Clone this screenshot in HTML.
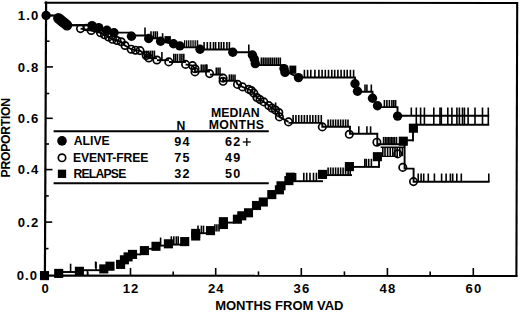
<!DOCTYPE html>
<html><head><meta charset="utf-8"><title>Survival chart</title>
<style>
html,body{margin:0;padding:0;background:#fff;}
body{width:520px;height:312px;overflow:hidden;}
svg{display:block;}
</style></head>
<body>
<svg width="520" height="312" viewBox="0 0 520 312">
<rect x="0" y="0" width="520" height="312" fill="#fff"/>
<g stroke="#000" stroke-linecap="butt" fill="none">
<line x1="46.1" y1="1.6" x2="44.9" y2="277" stroke-width="2.2"/>
<line x1="44.5" y1="2.7" x2="517.4" y2="2.9" stroke-width="2"/>
<line x1="517.2" y1="1.9" x2="516.4" y2="276.9" stroke-width="2.1"/>
<line x1="44" y1="275.6" x2="517.4" y2="275.9" stroke-width="2.2"/>
<line x1="46" y1="15.5" x2="53.2" y2="15.5" stroke-width="1.6"/>
<line x1="45.88" y1="41.2" x2="49.48" y2="41.2" stroke-width="1.6"/>
<line x1="45.76" y1="66.9" x2="52.96" y2="66.9" stroke-width="1.6"/>
<line x1="45.64" y1="93.5" x2="49.24" y2="93.5" stroke-width="1.6"/>
<line x1="45.52" y1="118.3" x2="52.72" y2="118.3" stroke-width="1.6"/>
<line x1="45.4" y1="144" x2="49" y2="144" stroke-width="1.6"/>
<line x1="45.28" y1="169.6" x2="52.48" y2="169.6" stroke-width="1.6"/>
<line x1="45.16" y1="195.9" x2="48.76" y2="195.9" stroke-width="1.6"/>
<line x1="45.04" y1="222.1" x2="52.24" y2="222.1" stroke-width="1.6"/>
<line x1="44.92" y1="248.6" x2="48.52" y2="248.6" stroke-width="1.6"/>
<line x1="87.8" y1="275.5" x2="87.8" y2="271.4" stroke-width="1.6"/>
<line x1="130.5" y1="275.5" x2="130.5" y2="268" stroke-width="1.6"/>
<line x1="173.2" y1="275.5" x2="173.2" y2="271.4" stroke-width="1.6"/>
<line x1="215.7" y1="275.5" x2="215.7" y2="268" stroke-width="1.6"/>
<line x1="258.5" y1="275.5" x2="258.5" y2="271.4" stroke-width="1.6"/>
<line x1="301.3" y1="275.5" x2="301.3" y2="268" stroke-width="1.6"/>
<line x1="344.4" y1="275.5" x2="344.4" y2="271.4" stroke-width="1.6"/>
<line x1="387.4" y1="275.5" x2="387.4" y2="268" stroke-width="1.6"/>
<line x1="430.2" y1="275.5" x2="430.2" y2="271.4" stroke-width="1.6"/>
<line x1="473.3" y1="275.5" x2="473.3" y2="268" stroke-width="1.6"/>
</g>
<g fill="#000" stroke="none" font-family="Liberation Sans, sans-serif" font-weight="bold">
<text x="39.3" y="20.2" font-size="13.1" text-anchor="end" letter-spacing="1.1">1.0</text>
<text x="39.3" y="71.6" font-size="13.1" text-anchor="end" letter-spacing="1.1">0.8</text>
<text x="39.3" y="123" font-size="13.1" text-anchor="end" letter-spacing="1.1">0.6</text>
<text x="39.3" y="174.3" font-size="13.1" text-anchor="end" letter-spacing="1.1">0.4</text>
<text x="39.3" y="226.8" font-size="13.1" text-anchor="end" letter-spacing="1.1">0.2</text>
<text x="38.2" y="280.4" font-size="13.1" text-anchor="end" letter-spacing="1.1">0.0</text>
<text x="45.6" y="293.4" font-size="13.1" text-anchor="middle" letter-spacing="1.1">0</text>
<text x="131.1" y="293.4" font-size="13.1" text-anchor="middle" letter-spacing="1.1">12</text>
<text x="216.3" y="293.4" font-size="13.1" text-anchor="middle" letter-spacing="1.1">24</text>
<text x="301.9" y="293.4" font-size="13.1" text-anchor="middle" letter-spacing="1.1">36</text>
<text x="388" y="293.4" font-size="13.1" text-anchor="middle" letter-spacing="1.1">48</text>
<text x="473.9" y="293.4" font-size="13.1" text-anchor="middle" letter-spacing="1.1">60</text>
<text x="279.3" y="309.5" font-size="13" text-anchor="middle" >MONTHS FROM VAD</text>
<text x="0" y="0" font-size="12.2" text-anchor="middle" textLength="79.5" lengthAdjust="spacing" transform="translate(10.0,137.7) rotate(-90)">PROPORTION</text>
<text x="73.8" y="145.1" font-size="12.2" text-anchor="start" >ALIVE</text>
<text x="73" y="161.8" font-size="12.2" text-anchor="start" textLength="75.4" lengthAdjust="spacing">EVENT-FREE</text>
<text x="73.5" y="178.1" font-size="12.2" text-anchor="start" textLength="52.8" lengthAdjust="spacing">RELAPSE</text>
<text x="181" y="129.6" font-size="12.2" text-anchor="middle" >N</text>
<text x="235.35" y="117.4" font-size="12.3" text-anchor="middle" textLength="48.7" lengthAdjust="spacing">MEDIAN</text>
<text x="236.35" y="129.2" font-size="12.3" text-anchor="middle" textLength="55.2" lengthAdjust="spacing">MONTHS</text>
<text x="182.5" y="145.8" font-size="12.6" text-anchor="middle" letter-spacing="1.3">94</text>
<text x="233.2" y="145.8" font-size="12.6" text-anchor="middle" letter-spacing="1.3">62</text>
<text x="182.5" y="162" font-size="12.6" text-anchor="middle" letter-spacing="1.3">75</text>
<text x="233.2" y="162" font-size="12.6" text-anchor="middle" letter-spacing="1.3">49</text>
<text x="182.5" y="178.3" font-size="12.6" text-anchor="middle" letter-spacing="1.3">32</text>
<text x="233.2" y="178.3" font-size="12.6" text-anchor="middle" letter-spacing="1.3">50</text>
</g>
<g stroke="#000" fill="none">
<line x1="242.8" y1="142" x2="250.8" y2="142" stroke-width="1.3"/>
<line x1="246.8" y1="138" x2="246.8" y2="146" stroke-width="1.3"/>
<line x1="53.6" y1="131.3" x2="268.8" y2="131.3" stroke-width="2"/>
<line x1="53.6" y1="183.3" x2="268.8" y2="183.3" stroke-width="2"/>
</g>
<g stroke="#000">
<circle cx="62" cy="140.9" r="4.8" fill="#000" stroke="none"/>
<circle cx="62" cy="157.8" r="3.7" fill="none" stroke-width="1.7"/>
<rect x="57.85" y="169.65" width="8.3" height="8.3" fill="#000" stroke="none"/>
</g>
<g stroke="#000" fill="none">
<line x1="63" y1="272" x2="76" y2="272" stroke-width="1.9"/>
<line x1="70.6" y1="263.7" x2="70.6" y2="272" stroke-width="1.6"/>
<line x1="83" y1="270.2" x2="101" y2="270.2" stroke-width="1.9"/>
<line x1="87.3" y1="270.2" x2="87.3" y2="275" stroke-width="1.2"/>
<line x1="96" y1="261.9" x2="96" y2="270.2" stroke-width="1.6"/>
<line x1="95.6" y1="261.5" x2="95.6" y2="268" stroke-width="1.6"/>
<line x1="136" y1="254.4" x2="141" y2="254.4" stroke-width="1.9"/>
<line x1="148" y1="248.8" x2="153" y2="248.8" stroke-width="1.9"/>
<line x1="160" y1="245.6" x2="165" y2="245.6" stroke-width="1.9"/>
<line x1="160.6" y1="237.5" x2="160.6" y2="245.6" stroke-width="1.6"/>
<line x1="172" y1="244.6" x2="181" y2="244.6" stroke-width="1.9"/>
<line x1="171.3" y1="236.3" x2="171.3" y2="244.6" stroke-width="1.6"/>
<line x1="173.8" y1="236.3" x2="173.8" y2="244.6" stroke-width="1.6"/>
<line x1="176.3" y1="236.3" x2="176.3" y2="244.6" stroke-width="1.6"/>
<line x1="178.2" y1="236.3" x2="178.2" y2="244.6" stroke-width="1.6"/>
<line x1="199" y1="233.2" x2="207" y2="233.2" stroke-width="1.9"/>
<line x1="198" y1="225.6" x2="198" y2="233" stroke-width="1.6"/>
<line x1="201.4" y1="225.6" x2="201.4" y2="233" stroke-width="1.6"/>
<line x1="203.5" y1="225.6" x2="203.5" y2="233" stroke-width="1.6"/>
<line x1="214.9" y1="224.2" x2="214.9" y2="231.6" stroke-width="1.6"/>
<line x1="216.9" y1="224.2" x2="216.9" y2="231.6" stroke-width="1.6"/>
<line x1="219" y1="224.2" x2="219" y2="231.6" stroke-width="1.6"/>
<line x1="227" y1="222.6" x2="234" y2="222.6" stroke-width="1.9"/>
<line x1="292" y1="181.2" x2="323" y2="181.2" stroke-width="1.9"/>
<line x1="295.6" y1="173" x2="295.6" y2="181.2" stroke-width="1.6"/>
<line x1="303.8" y1="172.7" x2="303.8" y2="181.2" stroke-width="1.6"/>
<line x1="306.7" y1="172.7" x2="306.7" y2="181.2" stroke-width="1.6"/>
<line x1="310" y1="172.7" x2="310" y2="181.2" stroke-width="1.6"/>
<line x1="313.5" y1="172.7" x2="313.5" y2="181.2" stroke-width="1.6"/>
<line x1="316.4" y1="172.7" x2="316.4" y2="181.2" stroke-width="1.6"/>
<line x1="326" y1="175.1" x2="352" y2="175.1" stroke-width="1.9"/>
<line x1="328.1" y1="167.4" x2="328.1" y2="175.1" stroke-width="1.6"/>
<line x1="330.6" y1="167.4" x2="330.6" y2="175.1" stroke-width="1.6"/>
<line x1="333.1" y1="167.4" x2="333.1" y2="175.1" stroke-width="1.6"/>
<line x1="335.6" y1="167.4" x2="335.6" y2="175.1" stroke-width="1.6"/>
<line x1="338.1" y1="167.4" x2="338.1" y2="175.1" stroke-width="1.6"/>
<line x1="340.6" y1="167.4" x2="340.6" y2="175.1" stroke-width="1.6"/>
<line x1="343.1" y1="167.4" x2="343.1" y2="175.1" stroke-width="1.6"/>
<line x1="345.6" y1="167.4" x2="345.6" y2="175.1" stroke-width="1.6"/>
<line x1="348.1" y1="167.4" x2="348.1" y2="175.1" stroke-width="1.6"/>
<line x1="350.2" y1="167.4" x2="350.2" y2="175.1" stroke-width="1.6"/>
<line x1="353" y1="166.9" x2="379.5" y2="166.9" stroke-width="1.9"/>
<line x1="364.8" y1="158.8" x2="364.8" y2="166.9" stroke-width="1.6"/>
<line x1="366.3" y1="158.8" x2="366.3" y2="166.9" stroke-width="1.6"/>
<line x1="368.7" y1="158.8" x2="368.7" y2="166.9" stroke-width="1.6"/>
<line x1="371.4" y1="158.8" x2="371.4" y2="166.9" stroke-width="1.6"/>
<line x1="379" y1="167.8" x2="379" y2="156.5" stroke-width="1.9"/>
<line x1="380.6" y1="147.3" x2="404.6" y2="147.3" stroke-width="1.6"/>
<line x1="381" y1="156.4" x2="398" y2="156.4" stroke-width="1.2"/>
<line x1="382.8" y1="147.3" x2="382.8" y2="156.2" stroke-width="1.6"/>
<line x1="385" y1="147.3" x2="385" y2="156.2" stroke-width="1.6"/>
<line x1="387.6" y1="147.3" x2="387.6" y2="156.2" stroke-width="1.6"/>
<line x1="390.2" y1="147.3" x2="390.2" y2="156.2" stroke-width="1.6"/>
<line x1="392.7" y1="147.3" x2="392.7" y2="156.2" stroke-width="1.6"/>
<line x1="395" y1="147.3" x2="395" y2="156.2" stroke-width="1.6"/>
<line x1="397.2" y1="147.3" x2="397.2" y2="156.2" stroke-width="1.6"/>
<line x1="399.8" y1="147.3" x2="399.8" y2="156.2" stroke-width="1.6"/>
<line x1="402.4" y1="147.3" x2="402.4" y2="156.2" stroke-width="1.6"/>
<line x1="405" y1="140.3" x2="413.4" y2="140.3" stroke-width="1.9"/>
<line x1="413" y1="141.2" x2="413" y2="128.5" stroke-width="1.9"/>
<line x1="417" y1="124.7" x2="489.2" y2="124.7" stroke-width="1.9"/>
</g>
<g stroke="none">
<rect x="39.95" y="271.05" width="9.1" height="9.1" fill="#000" stroke="none"/>
<rect x="54.15" y="268.85" width="9.1" height="9.1" fill="#000" stroke="none"/>
<rect x="74.85" y="266.75" width="9.1" height="9.1" fill="#000" stroke="none"/>
<rect x="99.25" y="264.35" width="9.1" height="9.1" fill="#000" stroke="none"/>
<rect x="105.45" y="261.65" width="9.1" height="9.1" fill="#000" stroke="none"/>
<rect x="116.05" y="259.85" width="9.1" height="9.1" fill="#000" stroke="none"/>
<rect x="119.85" y="255.25" width="9.1" height="9.1" fill="#000" stroke="none"/>
<rect x="123.55" y="252.35" width="9.1" height="9.1" fill="#000" stroke="none"/>
<rect x="127.95" y="249.85" width="9.1" height="9.1" fill="#000" stroke="none"/>
<rect x="139.85" y="246.05" width="9.1" height="9.1" fill="#000" stroke="none"/>
<rect x="151.45" y="241.75" width="9.1" height="9.1" fill="#000" stroke="none"/>
<rect x="163.85" y="239.25" width="9.1" height="9.1" fill="#000" stroke="none"/>
<rect x="180.15" y="237.05" width="9.1" height="9.1" fill="#000" stroke="none"/>
<rect x="191.15" y="231.45" width="9.1" height="9.1" fill="#000" stroke="none"/>
<rect x="191.15" y="228.85" width="9.1" height="9.1" fill="#000" stroke="none"/>
<rect x="205.95" y="226.05" width="9.1" height="9.1" fill="#000" stroke="none"/>
<rect x="218.85" y="219.95" width="9.1" height="9.1" fill="#000" stroke="none"/>
<rect x="218.85" y="217.15" width="9.1" height="9.1" fill="#000" stroke="none"/>
<rect x="232.85" y="214.65" width="9.1" height="9.1" fill="#000" stroke="none"/>
<rect x="237.25" y="211.25" width="9.1" height="9.1" fill="#000" stroke="none"/>
<rect x="243.95" y="208.25" width="9.1" height="9.1" fill="#000" stroke="none"/>
<rect x="251.95" y="200.95" width="9.1" height="9.1" fill="#000" stroke="none"/>
<rect x="258.75" y="197.45" width="9.1" height="9.1" fill="#000" stroke="none"/>
<rect x="267.25" y="190.05" width="9.1" height="9.1" fill="#000" stroke="none"/>
<rect x="274.85" y="185.25" width="9.1" height="9.1" fill="#000" stroke="none"/>
<rect x="276.45" y="181.25" width="9.1" height="9.1" fill="#000" stroke="none"/>
<rect x="284.35" y="176.05" width="9.1" height="9.1" fill="#000" stroke="none"/>
<rect x="285.85" y="172.65" width="9.1" height="9.1" fill="#000" stroke="none"/>
<rect x="317.95" y="169.85" width="9.1" height="9.1" fill="#000" stroke="none"/>
<rect x="344.85" y="162.05" width="9.1" height="9.1" fill="#000" stroke="none"/>
<rect x="372.85" y="152.15" width="9.1" height="9.1" fill="#000" stroke="none"/>
<rect x="398.75" y="136.65" width="9.1" height="9.1" fill="#000" stroke="none"/>
<rect x="408.85" y="123.65" width="9.1" height="9.1" fill="#000" stroke="none"/>
</g>
<g stroke="#000" fill="none">
<line x1="67" y1="25.2" x2="90" y2="25.2" stroke-width="1.9"/>
<polyline points="80.6,28.6 91.2,30.5 100.5,32.8 104.5,34.8 108.5,37 112.5,39.3 117,40.5 121.2,41.8 125,45.5 131.2,49.2 135.5,50.2 140,50.6 146.2,55.5 148.8,58" fill="none" stroke-width="1.9"/>
<line x1="148.8" y1="58.2" x2="157" y2="58.2" stroke-width="1.9"/>
<line x1="144.4" y1="50.6" x2="144.4" y2="58.2" stroke-width="1.6"/>
<line x1="146.5" y1="50.6" x2="146.5" y2="58.2" stroke-width="1.6"/>
<line x1="148.6" y1="50.6" x2="148.6" y2="58.2" stroke-width="1.6"/>
<line x1="150.6" y1="50.6" x2="150.6" y2="58.2" stroke-width="1.6"/>
<line x1="152.5" y1="50.6" x2="152.5" y2="58.2" stroke-width="1.6"/>
<line x1="154.4" y1="50.6" x2="154.4" y2="58.2" stroke-width="1.6"/>
<line x1="157" y1="60.2" x2="169" y2="60.2" stroke-width="1.9"/>
<line x1="161.9" y1="51.9" x2="161.9" y2="60.2" stroke-width="1.6"/>
<line x1="169" y1="62" x2="186" y2="62" stroke-width="1.9"/>
<line x1="173.8" y1="53.8" x2="173.8" y2="62" stroke-width="1.6"/>
<line x1="175.6" y1="53.8" x2="175.6" y2="62" stroke-width="1.6"/>
<line x1="177.5" y1="53.8" x2="177.5" y2="62" stroke-width="1.6"/>
<line x1="180" y1="53.8" x2="180" y2="62" stroke-width="1.6"/>
<line x1="181.9" y1="53.8" x2="181.9" y2="62" stroke-width="1.6"/>
<line x1="183.8" y1="53.8" x2="183.8" y2="62" stroke-width="1.6"/>
<polyline points="185.6,64.4 192.5,65.6 195,68.8 195,71.5 210,71.5" fill="none" stroke-width="1.9"/>
<line x1="201.3" y1="64.4" x2="201.3" y2="71.5" stroke-width="1.6"/>
<line x1="203.1" y1="64.4" x2="203.1" y2="71.5" stroke-width="1.6"/>
<line x1="205" y1="64.4" x2="205" y2="71.5" stroke-width="1.6"/>
<line x1="206.9" y1="64.4" x2="206.9" y2="71.5" stroke-width="1.6"/>
<line x1="206.3" y1="64.4" x2="206.3" y2="72.5" stroke-width="1.6"/>
<line x1="210" y1="74.6" x2="223" y2="74.6" stroke-width="1.9"/>
<line x1="216.3" y1="67.5" x2="216.3" y2="74.6" stroke-width="1.6"/>
<line x1="218.1" y1="67.5" x2="218.1" y2="74.6" stroke-width="1.6"/>
<line x1="220" y1="67.5" x2="220" y2="74.6" stroke-width="1.6"/>
<polyline points="223.1,78.1 223.1,80.8 236,80.8" fill="none" stroke-width="1.9"/>
<line x1="229.4" y1="74.4" x2="229.4" y2="80.8" stroke-width="1.6"/>
<line x1="231.3" y1="74.4" x2="231.3" y2="80.8" stroke-width="1.6"/>
<line x1="233.1" y1="74.4" x2="233.1" y2="80.8" stroke-width="1.6"/>
<line x1="235" y1="74.4" x2="235" y2="80.8" stroke-width="1.6"/>
<polyline points="236,80.8 237.5,84.4 242.5,86.9 248.8,89.4 251.3,90.5 253.8,93.1 256.9,97.5 260,99.6 263.8,101.9 268.8,105.6 271.9,108.1 275.5,110 278.8,112.5 279.4,116.9 288.5,121.9" fill="none" stroke-width="1.9"/>
<line x1="275.6" y1="102.5" x2="275.6" y2="108.8" stroke-width="1.6"/>
<line x1="288.5" y1="122.9" x2="322.3" y2="122.9" stroke-width="1.9"/>
<line x1="293.1" y1="115" x2="293.1" y2="122.9" stroke-width="1.6"/>
<line x1="295.92" y1="115" x2="295.92" y2="122.9" stroke-width="1.6"/>
<line x1="298.74" y1="115" x2="298.74" y2="122.9" stroke-width="1.6"/>
<line x1="301.56" y1="115" x2="301.56" y2="122.9" stroke-width="1.6"/>
<line x1="304.38" y1="115" x2="304.38" y2="122.9" stroke-width="1.6"/>
<line x1="307.2" y1="115" x2="307.2" y2="122.9" stroke-width="1.6"/>
<line x1="310.02" y1="115" x2="310.02" y2="122.9" stroke-width="1.6"/>
<line x1="312.84" y1="115" x2="312.84" y2="122.9" stroke-width="1.6"/>
<line x1="315.66" y1="115" x2="315.66" y2="122.9" stroke-width="1.6"/>
<line x1="318.48" y1="115" x2="318.48" y2="122.9" stroke-width="1.6"/>
<line x1="321.3" y1="115" x2="321.3" y2="122.9" stroke-width="1.6"/>
<polyline points="322.3,122.9 322.3,126.7 350,126.7 350,133.8 377.3,133.8 377.3,144.3 404.6,144.3 404.6,168.6 413.6,168.6 413.6,181.7 489.6,181.7" fill="none" stroke-width="1.9"/>
<line x1="328.1" y1="119.4" x2="328.1" y2="126.7" stroke-width="1.6"/>
<line x1="330.6" y1="119.4" x2="330.6" y2="126.7" stroke-width="1.6"/>
<line x1="333.1" y1="119.4" x2="333.1" y2="126.7" stroke-width="1.6"/>
<line x1="335.6" y1="119.4" x2="335.6" y2="126.7" stroke-width="1.6"/>
<line x1="338.1" y1="119.4" x2="338.1" y2="126.7" stroke-width="1.6"/>
<line x1="340.6" y1="119.4" x2="340.6" y2="126.7" stroke-width="1.6"/>
<line x1="343.1" y1="119.4" x2="343.1" y2="126.7" stroke-width="1.6"/>
<line x1="345.6" y1="119.4" x2="345.6" y2="126.7" stroke-width="1.6"/>
<line x1="348" y1="119.4" x2="348" y2="126.7" stroke-width="1.6"/>
<line x1="358.8" y1="126.3" x2="358.8" y2="133.8" stroke-width="1.6"/>
<line x1="366.9" y1="126.3" x2="366.9" y2="133.8" stroke-width="1.6"/>
<line x1="370.6" y1="126.3" x2="370.6" y2="133.8" stroke-width="1.6"/>
<line x1="383.6" y1="136.9" x2="383.6" y2="144.3" stroke-width="1.6"/>
<line x1="385.4" y1="136.9" x2="385.4" y2="144.3" stroke-width="1.6"/>
<line x1="387" y1="136.9" x2="387" y2="144.3" stroke-width="1.6"/>
<line x1="388.5" y1="136.9" x2="388.5" y2="144.3" stroke-width="1.6"/>
<line x1="390" y1="136.9" x2="390" y2="144.3" stroke-width="1.6"/>
<line x1="391.5" y1="136.9" x2="391.5" y2="144.3" stroke-width="1.6"/>
<line x1="393" y1="136.9" x2="393" y2="144.3" stroke-width="1.6"/>
<line x1="394.6" y1="136.9" x2="394.6" y2="144.3" stroke-width="1.6"/>
<line x1="396.5" y1="136.9" x2="396.5" y2="144.3" stroke-width="1.6"/>
<line x1="418.2" y1="173.5" x2="418.2" y2="181.7" stroke-width="1.6"/>
<line x1="421.1" y1="173.5" x2="421.1" y2="181.7" stroke-width="1.6"/>
<line x1="423.7" y1="173.5" x2="423.7" y2="181.7" stroke-width="1.6"/>
<line x1="428.3" y1="173.5" x2="428.3" y2="181.7" stroke-width="1.6"/>
<line x1="434.4" y1="173.5" x2="434.4" y2="181.7" stroke-width="1.6"/>
<line x1="441.6" y1="173.5" x2="441.6" y2="181.7" stroke-width="1.6"/>
<line x1="446.1" y1="173.5" x2="446.1" y2="181.7" stroke-width="1.6"/>
<line x1="450.4" y1="173.5" x2="450.4" y2="181.7" stroke-width="1.6"/>
<line x1="452.7" y1="173.5" x2="452.7" y2="181.7" stroke-width="1.6"/>
<line x1="456.8" y1="173.5" x2="456.8" y2="181.7" stroke-width="1.6"/>
<line x1="461.3" y1="173.5" x2="461.3" y2="181.7" stroke-width="1.6"/>
<line x1="488.8" y1="173.5" x2="488.8" y2="181.7" stroke-width="1.6"/>
</g>
<g stroke="#000">
<circle cx="86.2" cy="27.4" r="2.9" fill="none" stroke-width="1.7"/>
<circle cx="80.5" cy="28.6" r="3.7" fill="none" stroke-width="1.7"/>
<circle cx="91.2" cy="30.5" r="3.7" fill="none" stroke-width="1.7"/>
<circle cx="100.5" cy="32.8" r="3.7" fill="none" stroke-width="1.7"/>
<circle cx="104.5" cy="34.8" r="3.7" fill="none" stroke-width="1.7"/>
<circle cx="108.5" cy="37" r="3.7" fill="none" stroke-width="1.7"/>
<circle cx="112.5" cy="39.3" r="3.7" fill="none" stroke-width="1.7"/>
<circle cx="117" cy="40.5" r="3.7" fill="none" stroke-width="1.7"/>
<circle cx="121.2" cy="41.8" r="3.7" fill="none" stroke-width="1.7"/>
<circle cx="125" cy="45.5" r="3.7" fill="none" stroke-width="1.7"/>
<circle cx="131.2" cy="49.2" r="3.7" fill="none" stroke-width="1.7"/>
<circle cx="135.5" cy="50.2" r="3.7" fill="none" stroke-width="1.7"/>
<circle cx="140" cy="50.6" r="3.7" fill="none" stroke-width="1.7"/>
<circle cx="146.2" cy="55.5" r="3.7" fill="none" stroke-width="1.7"/>
<circle cx="148.8" cy="58" r="3.7" fill="none" stroke-width="1.7"/>
<circle cx="156.9" cy="60" r="3.7" fill="none" stroke-width="1.7"/>
<circle cx="168.8" cy="61.9" r="3.7" fill="none" stroke-width="1.7"/>
<circle cx="185.6" cy="64.4" r="3.7" fill="none" stroke-width="1.7"/>
<circle cx="192.5" cy="65.6" r="3.7" fill="none" stroke-width="1.7"/>
<circle cx="195" cy="68.8" r="3.7" fill="none" stroke-width="1.7"/>
<circle cx="195" cy="71.9" r="3.7" fill="none" stroke-width="1.7"/>
<circle cx="209.6" cy="73.6" r="3.7" fill="none" stroke-width="1.7"/>
<circle cx="223.1" cy="78.1" r="3.7" fill="none" stroke-width="1.7"/>
<circle cx="223.1" cy="81.3" r="3.7" fill="none" stroke-width="1.7"/>
<circle cx="237.5" cy="84.4" r="3.7" fill="none" stroke-width="1.7"/>
<circle cx="242.5" cy="86.9" r="3.7" fill="none" stroke-width="1.7"/>
<circle cx="248.8" cy="89.4" r="3.7" fill="none" stroke-width="1.7"/>
<circle cx="251.3" cy="90.5" r="3.7" fill="none" stroke-width="1.7"/>
<circle cx="253.8" cy="93.1" r="3.7" fill="none" stroke-width="1.7"/>
<circle cx="256.9" cy="97.5" r="3.7" fill="none" stroke-width="1.7"/>
<circle cx="260" cy="99.6" r="3.7" fill="none" stroke-width="1.7"/>
<circle cx="263.8" cy="101.9" r="3.7" fill="none" stroke-width="1.7"/>
<circle cx="268.8" cy="105.6" r="3.7" fill="none" stroke-width="1.7"/>
<circle cx="271.9" cy="108.1" r="3.7" fill="none" stroke-width="1.7"/>
<circle cx="275.5" cy="110" r="3.7" fill="none" stroke-width="1.7"/>
<circle cx="278.8" cy="112.5" r="3.7" fill="none" stroke-width="1.7"/>
<circle cx="279.4" cy="116.9" r="3.7" fill="none" stroke-width="1.7"/>
<circle cx="288.5" cy="121.9" r="3.7" fill="none" stroke-width="1.7"/>
<circle cx="322.3" cy="126.9" r="3.7" fill="none" stroke-width="1.7"/>
<circle cx="349.3" cy="134.3" r="3.7" fill="none" stroke-width="1.7"/>
<circle cx="376.9" cy="142.2" r="3.7" fill="none" stroke-width="1.7"/>
<circle cx="397.7" cy="153.9" r="3.7" fill="none" stroke-width="1.7"/>
<circle cx="402.8" cy="167.4" r="3.7" fill="none" stroke-width="1.7"/>
<circle cx="413.5" cy="181.6" r="3.7" fill="none" stroke-width="1.7"/>
</g>
<g stroke="#000" fill="none">
<polyline points="46,15.5 55,15.5 58.4,18.2 67,25.2 90,25.2 92,25.6 98.7,27.6 106.9,30.2 114,32.6 131.3,32.6 131.3,35.5 145,35.5 148.7,38.3 160,38.3 160.6,41.3 172.7,43.8 179.2,46.5 179.2,47.4 200,47.4 200,49.5 232.5,49.5 232.8,52.2 252.4,52.2 252.4,55 255.3,63.6 255.3,65.1 284,65.1 284,70.4 298.5,77.5 355,77.5 355,83.8 357.5,91.8 372.5,91.8 372.5,98.2 377.5,105.8 377.5,107.1 397.5,107.1 397.5,115.7 489.2,115.7" fill="none" stroke-width="1.9"/>
<line x1="145" y1="27.5" x2="145" y2="35.6" stroke-width="1.6"/>
<line x1="151" y1="31.3" x2="151" y2="38.3" stroke-width="1.6"/>
<line x1="153.5" y1="31.3" x2="153.5" y2="38.3" stroke-width="1.6"/>
<line x1="155.4" y1="31.3" x2="155.4" y2="38.3" stroke-width="1.6"/>
<line x1="157.3" y1="31.3" x2="157.3" y2="38.3" stroke-width="1.6"/>
<line x1="162.6" y1="33.2" x2="162.6" y2="41" stroke-width="1.6"/>
<line x1="184.6" y1="40.3" x2="184.6" y2="47.4" stroke-width="1.2"/>
<line x1="186.46" y1="40.3" x2="186.46" y2="47.4" stroke-width="1.2"/>
<line x1="188.32" y1="40.3" x2="188.32" y2="47.4" stroke-width="1.2"/>
<line x1="190.18" y1="40.3" x2="190.18" y2="47.4" stroke-width="1.2"/>
<line x1="192.04" y1="40.3" x2="192.04" y2="47.4" stroke-width="1.2"/>
<line x1="193.9" y1="40.3" x2="193.9" y2="47.4" stroke-width="1.2"/>
<line x1="195.76" y1="40.3" x2="195.76" y2="47.4" stroke-width="1.2"/>
<line x1="197.62" y1="40.3" x2="197.62" y2="47.4" stroke-width="1.2"/>
<line x1="204.1" y1="42" x2="204.1" y2="49.5" stroke-width="1.6"/>
<line x1="207.3" y1="42" x2="207.3" y2="49.5" stroke-width="1.6"/>
<line x1="210.4" y1="42" x2="210.4" y2="49.5" stroke-width="1.6"/>
<line x1="213.5" y1="42" x2="213.5" y2="49.5" stroke-width="1.6"/>
<line x1="215.6" y1="42" x2="215.6" y2="49.5" stroke-width="1.6"/>
<line x1="218.8" y1="42" x2="218.8" y2="49.5" stroke-width="1.6"/>
<line x1="221.3" y1="42" x2="221.3" y2="49.5" stroke-width="1.6"/>
<line x1="223.8" y1="42" x2="223.8" y2="49.5" stroke-width="1.6"/>
<line x1="226.9" y1="42" x2="226.9" y2="49.5" stroke-width="1.6"/>
<line x1="229.4" y1="42" x2="229.4" y2="49.5" stroke-width="1.6"/>
<line x1="248.8" y1="44.4" x2="248.8" y2="52.2" stroke-width="1.6"/>
<line x1="261.3" y1="57.5" x2="261.3" y2="65.1" stroke-width="1.6"/>
<line x1="263.2" y1="57.5" x2="263.2" y2="65.1" stroke-width="1.6"/>
<line x1="265.1" y1="57.5" x2="265.1" y2="65.1" stroke-width="1.6"/>
<line x1="267" y1="57.5" x2="267" y2="65.1" stroke-width="1.6"/>
<line x1="268.9" y1="57.5" x2="268.9" y2="65.1" stroke-width="1.6"/>
<line x1="270.8" y1="57.5" x2="270.8" y2="65.1" stroke-width="1.6"/>
<line x1="272.7" y1="57.5" x2="272.7" y2="65.1" stroke-width="1.6"/>
<line x1="274.6" y1="57.5" x2="274.6" y2="65.1" stroke-width="1.6"/>
<line x1="276.5" y1="57.5" x2="276.5" y2="65.1" stroke-width="1.6"/>
<line x1="278.4" y1="57.5" x2="278.4" y2="65.1" stroke-width="1.6"/>
<line x1="280.3" y1="57.5" x2="280.3" y2="65.1" stroke-width="1.6"/>
<line x1="304.4" y1="69.8" x2="304.4" y2="77.9" stroke-width="1.6"/>
<line x1="307.6" y1="69.8" x2="307.6" y2="77.9" stroke-width="1.6"/>
<line x1="310.8" y1="69.8" x2="310.8" y2="77.9" stroke-width="1.6"/>
<line x1="314.9" y1="69.8" x2="314.9" y2="77.9" stroke-width="1.6"/>
<line x1="318.9" y1="69.8" x2="318.9" y2="77.9" stroke-width="1.6"/>
<line x1="322.1" y1="69.8" x2="322.1" y2="77.9" stroke-width="1.6"/>
<line x1="325.3" y1="69.8" x2="325.3" y2="77.9" stroke-width="1.6"/>
<line x1="328.5" y1="69.8" x2="328.5" y2="77.9" stroke-width="1.6"/>
<line x1="331.8" y1="69.8" x2="331.8" y2="77.9" stroke-width="1.6"/>
<line x1="334.7" y1="69.8" x2="334.7" y2="77.9" stroke-width="1.6"/>
<line x1="337.9" y1="69.8" x2="337.9" y2="77.9" stroke-width="1.6"/>
<line x1="341.1" y1="69.8" x2="341.1" y2="77.9" stroke-width="1.6"/>
<line x1="344.3" y1="69.8" x2="344.3" y2="77.9" stroke-width="1.6"/>
<line x1="347.2" y1="69.8" x2="347.2" y2="77.9" stroke-width="1.6"/>
<line x1="350.4" y1="69.8" x2="350.4" y2="77.9" stroke-width="1.6"/>
<line x1="353.6" y1="69.8" x2="353.6" y2="77.9" stroke-width="1.6"/>
<line x1="365" y1="84.5" x2="365" y2="91.8" stroke-width="1.6"/>
<line x1="366.9" y1="84.5" x2="366.9" y2="91.8" stroke-width="1.6"/>
<line x1="371.3" y1="84.5" x2="371.3" y2="91.8" stroke-width="1.6"/>
<line x1="384.4" y1="100" x2="384.4" y2="107.1" stroke-width="1.6"/>
<line x1="386.9" y1="100" x2="386.9" y2="107.1" stroke-width="1.6"/>
<line x1="389.4" y1="100" x2="389.4" y2="107.1" stroke-width="1.6"/>
<line x1="391.9" y1="100" x2="391.9" y2="107.1" stroke-width="1.6"/>
<line x1="393.8" y1="100" x2="393.8" y2="107.1" stroke-width="1.6"/>
<line x1="395.6" y1="100" x2="395.6" y2="107.1" stroke-width="1.6"/>
<line x1="411.3" y1="107.5" x2="411.3" y2="115.7" stroke-width="1.6"/>
<line x1="416.3" y1="107.5" x2="416.3" y2="124.7" stroke-width="1.6"/>
<line x1="420.6" y1="107.5" x2="420.6" y2="124.7" stroke-width="1.6"/>
<line x1="424.4" y1="107.5" x2="424.4" y2="124.7" stroke-width="1.6"/>
<line x1="433.8" y1="107.5" x2="433.8" y2="124.7" stroke-width="1.6"/>
<line x1="440" y1="107.5" x2="440" y2="124.7" stroke-width="1.6"/>
<line x1="441.3" y1="107.5" x2="441.3" y2="124.7" stroke-width="1.6"/>
<line x1="447.8" y1="107.5" x2="447.8" y2="124.7" stroke-width="1.6"/>
<line x1="451.9" y1="107.5" x2="451.9" y2="124.7" stroke-width="1.6"/>
<line x1="456.9" y1="107.5" x2="456.9" y2="124.7" stroke-width="1.6"/>
<line x1="459.4" y1="107.5" x2="459.4" y2="124.7" stroke-width="1.6"/>
<line x1="462.5" y1="107.5" x2="462.5" y2="124.7" stroke-width="1.6"/>
<line x1="464.4" y1="107.5" x2="464.4" y2="124.7" stroke-width="1.6"/>
<line x1="468.1" y1="107.5" x2="468.1" y2="124.7" stroke-width="1.6"/>
<line x1="475" y1="107.5" x2="475" y2="124.7" stroke-width="1.6"/>
<line x1="482.5" y1="107.5" x2="482.5" y2="124.7" stroke-width="1.6"/>
<line x1="488.3" y1="107.5" x2="488.3" y2="124.7" stroke-width="1.6"/>
</g>
<g stroke="none">
<rect x="164.5" y="36.1" width="6.4" height="5.9" fill="#000" stroke="none"/>
<rect x="289.4" y="65.6" width="6.9" height="8.2" fill="#000" stroke="none"/>
<circle cx="58.4" cy="18.2" r="5.3" fill="#000" stroke="none"/>
<circle cx="59.83" cy="19.37" r="5.3" fill="#000" stroke="none"/>
<circle cx="61.27" cy="20.53" r="5.3" fill="#000" stroke="none"/>
<circle cx="62.7" cy="21.7" r="5.3" fill="#000" stroke="none"/>
<circle cx="64.13" cy="22.87" r="5.3" fill="#000" stroke="none"/>
<circle cx="65.57" cy="24.03" r="5.3" fill="#000" stroke="none"/>
<circle cx="67" cy="25.2" r="5.3" fill="#000" stroke="none"/>
<circle cx="46.1" cy="15.5" r="4.7" fill="#000" stroke="none"/>
<circle cx="92" cy="25.6" r="4.7" fill="#000" stroke="none"/>
<circle cx="98.7" cy="27.6" r="4.7" fill="#000" stroke="none"/>
<circle cx="106.9" cy="30.2" r="4.7" fill="#000" stroke="none"/>
<circle cx="114" cy="32.8" r="4.7" fill="#000" stroke="none"/>
<circle cx="131.5" cy="36.3" r="4.7" fill="#000" stroke="none"/>
<circle cx="148.7" cy="38.5" r="4.7" fill="#000" stroke="none"/>
<circle cx="160.6" cy="41.3" r="4.7" fill="#000" stroke="none"/>
<circle cx="173.5" cy="43.7" r="4.7" fill="#000" stroke="none"/>
<circle cx="179.8" cy="45.9" r="4.7" fill="#000" stroke="none"/>
<circle cx="200" cy="49.3" r="4.7" fill="#000" stroke="none"/>
<circle cx="232.8" cy="52.2" r="4.7" fill="#000" stroke="none"/>
<circle cx="252.4" cy="55" r="4.7" fill="#000" stroke="none"/>
<circle cx="254.3" cy="59" r="4.7" fill="#000" stroke="none"/>
<circle cx="255.3" cy="63.6" r="4.7" fill="#000" stroke="none"/>
<circle cx="284" cy="68.6" r="4.7" fill="#000" stroke="none"/>
<circle cx="285" cy="72.4" r="4.7" fill="#000" stroke="none"/>
<circle cx="298.5" cy="77.6" r="4.7" fill="#000" stroke="none"/>
<circle cx="355" cy="83.8" r="4.7" fill="#000" stroke="none"/>
<circle cx="357.5" cy="91.2" r="4.7" fill="#000" stroke="none"/>
<circle cx="372.5" cy="98.2" r="4.7" fill="#000" stroke="none"/>
<circle cx="377.5" cy="105.8" r="4.7" fill="#000" stroke="none"/>
<circle cx="397.6" cy="116.1" r="4.7" fill="#000" stroke="none"/>
</g>
</svg>
</body></html>
